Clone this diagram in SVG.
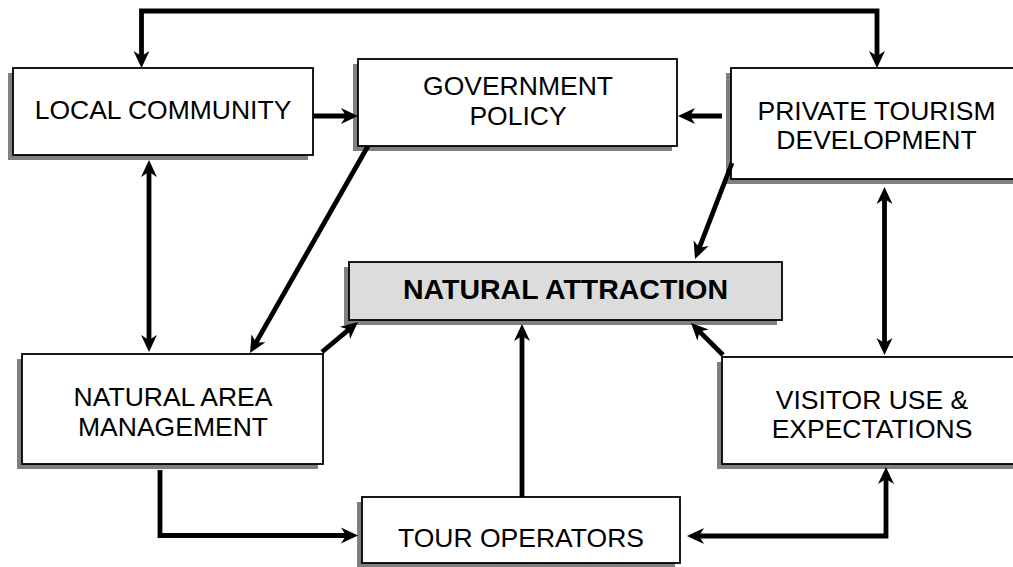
<svg xmlns="http://www.w3.org/2000/svg" width="1013" height="567" viewBox="0 0 1013 567">
<style>
.shadow{fill:#808080}
.box{fill:#ffffff;stroke:#000;stroke-width:1.8}
.hl{fill:#dcdcdc;stroke:#000;stroke-width:1.8}
.lbl{font-family:"Liberation Sans",Arial,sans-serif;font-size:26.5px;fill:#000;text-anchor:middle}
.bold{font-weight:bold;font-size:28.5px}
.con{fill:none;stroke:#000;stroke-width:4.8;stroke-linejoin:miter;marker-end:url(#ah)}
.both{marker-start:url(#ah)}
</style>
<defs>
<marker id="ah" viewBox="-17 -9 18 18" refX="-10" refY="0" markerWidth="18" markerHeight="18" markerUnits="userSpaceOnUse" orient="auto-start-reverse">
<path d="M0,0 L-17,-8 L-12,0 L-17,8 Z" fill="#000"/>
</marker>
</defs>
<rect width="1013" height="567" fill="#fff"/>
<g id="local-community">
<rect class="shadow" x="8" y="73" width="300" height="87"/>
<rect class="box" x="13" y="68" width="300" height="87"/>
<text class="lbl" x="163" y="119">LOCAL COMMUNITY</text>
</g>
<g id="government-policy">
<rect class="shadow" x="353" y="64" width="319" height="87"/>
<rect class="box" x="358" y="59" width="319" height="87"/>
<text class="lbl" x="518" y="95">GOVERNMENT</text>
<text class="lbl" x="518" y="125">POLICY</text>
</g>
<g id="private-tourism-development">
<rect class="shadow" x="726" y="73" width="300" height="111"/>
<rect class="box" x="731" y="68" width="300" height="111"/>
<text class="lbl" x="876.5" y="120">PRIVATE TOURISM</text>
<text class="lbl" x="876.5" y="149">DEVELOPMENT</text>
</g>
<g id="natural-attraction">
<rect class="shadow" x="344" y="267" width="433" height="58"/>
<rect class="hl" x="349" y="262" width="433" height="58"/>
<text class="lbl bold" x="565.5" y="299">NATURAL ATTRACTION</text>
</g>
<g id="natural-area-management">
<rect class="shadow" x="17" y="359" width="301" height="110"/>
<rect class="box" x="22" y="354" width="301" height="110"/>
<text class="lbl" x="173" y="406">NATURAL AREA</text>
<text class="lbl" x="173" y="436">MANAGEMENT</text>
</g>
<g id="visitor-use">
<rect class="shadow" x="717" y="362" width="305" height="107"/>
<rect class="box" x="722" y="357" width="305" height="107"/>
<text class="lbl" x="872" y="409">VISITOR USE &amp;</text>
<text class="lbl" x="872" y="438">EXPECTATIONS</text>
</g>
<g id="tour-operators">
<rect class="shadow" x="357" y="502" width="318" height="66"/>
<rect class="box" x="362" y="497" width="318" height="66"/>
<text class="lbl" x="521" y="547">TOUR OPERATORS</text>
</g>
<g id="connectors">
<path class="con both" d="M141.5,58 L141.5,11 L877,11 L877,58"/>
<path class="con" d="M313,116 L348,116"/>
<path class="con" d="M722,116 L688,116"/>
<path class="con" d="M368,146 L255,344.3"/>
<path class="con both" d="M149,170 L149,342"/>
<path class="con" d="M322,352 L350.3,328.4"/>
<path class="con" d="M522,497 L522,334"/>
<path class="con" d="M732,163 L698.6,249.7"/>
<path class="con" d="M723,355 L698.1,330.1"/>
<path class="con both" d="M884.5,197 L884.5,345"/>
<path class="con" d="M160,470 L160,535.5 L348,535.5"/>
<path class="con both" d="M697,536 L886,536 L886,477"/>
</g>
</svg>
